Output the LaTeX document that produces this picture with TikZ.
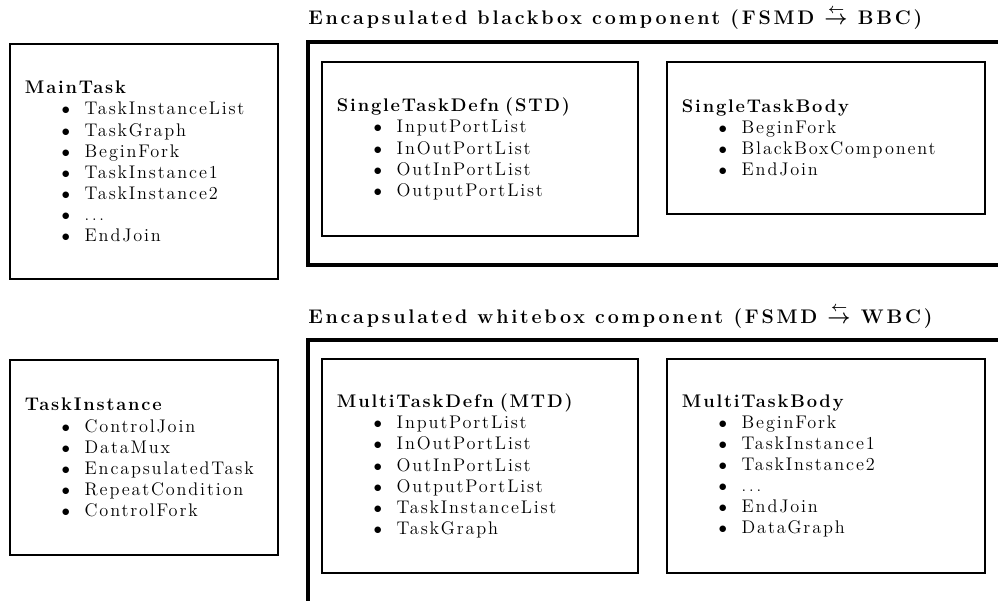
\documentclass[tikz,border=0pt]{standalone}
\usepackage{amsmath, amssymb}
\usepackage{fontspec}
\setmainfont{Latin Modern Roman}[LetterSpace=10]
\usepackage{tikz}
\usetikzlibrary{positioning}
\newcommand{\bul}[1]{\\\hspace*{26pt}\makebox[16.5pt][l]{$\bullet$}#1}
\tikzset{
  box/.style = {draw=black, line width=1.5pt, align=left, inner xsep=0.375cm,
    inner ysep=0pt, font=\fontsize{13pt}{15pt}\selectfont},
  frame/.style = {draw=black, line width=2.6pt},
  title/.style = {anchor=base west, inner sep=0pt,
    font=\fontsize{14pt}{15pt}\selectfont\bfseries\boldmath\addfontfeatures{LetterSpace=14}}
}

\begin{document}
\begin{tikzpicture}[x=0.025cm, y=0.025cm]
\useasboundingbox (0,0) rectangle (998,600);
\begin{scope}
\clip (0,0) rectangle (998,600);
\draw [frame] (1020,558) -- (308,558) -- (308,335) -- (1020,335);
\draw [frame] (1020,260) -- (308,260) -- (308,-20);
\end{scope}
\node [title] (bbctitle) at (308,575) {Encapsulated blackbox component (FSMD $\stackrel{\leftarrow}{\rightarrow}$ BBC)};
\node [title] (wbctitle) at (308,277) {Encapsulated whitebox component (FSMD $\stackrel{\leftarrow}{\rightarrow}$ WBC)};
\node [box, text width=5.95cm, minimum height=5.875cm] (main) at (144,438.5)
  {\textbf{MainTask}\bul{TaskInstanceList}\bul{TaskGraph}\bul{BeginFork}\bul{TaskInstance1}\bul{TaskInstance2}\bul{$\ldots$}\bul{EndJoin}};
\node [box, text width=5.95cm, minimum height=4.875cm] (inst) at (144,142.5)
  {\textbf{TaskInstance}\bul{ControlJoin}\bul{DataMux}\bul{EncapsulatedTask}\bul{RepeatCondition}\bul{ControlFork}};
\node [box, text width=7.15cm, minimum height=4.35cm] (std) at (480,451)
  {\textbf{SingleTaskDefn (STD)}\bul{InputPortList}\bul{InOutPortList}\bul{OutInPortList}\bul{OutputPortList}};
\node [box, text width=7.2cm, minimum height=3.8cm] (stb) at (826,462)
  {\textbf{SingleTaskBody}\bul{BeginFork}\bul{BlackBoxComponent}\bul{EndJoin}};
\node [box, text width=7.15cm, minimum height=5.35cm] (mtd) at (480,134)
  {\textbf{MultiTaskDefn (MTD)}\bul{InputPortList}\bul{InOutPortList}\bul{OutInPortList}\bul{OutputPortList}\bul{TaskInstanceList}\bul{TaskGraph}};
\node [box, text width=7.2cm, minimum height=5.35cm] (mtb) at (826,134)
  {\textbf{MultiTaskBody}\bul{BeginFork}\bul{TaskInstance1}\bul{TaskInstance2}\bul{$\ldots$}\bul{EndJoin}\bul{DataGraph}};
\end{tikzpicture}
\end{document}
